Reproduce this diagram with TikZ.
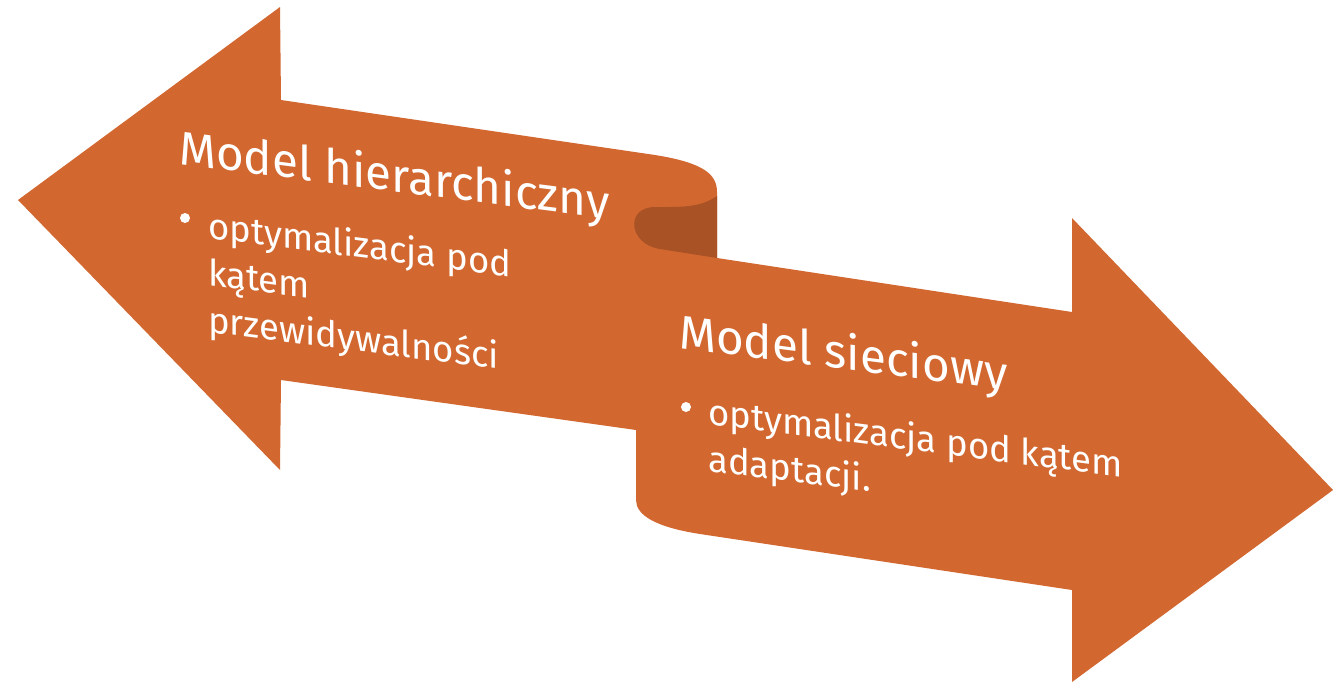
\documentclass[tikz,border=0pt]{standalone}
\usepackage{fontspec}
\setmainfont{Fira Sans}
\usetikzlibrary{positioning}
\definecolor{ribbon}{HTML}{D2672F}
\definecolor{ribbonfold}{HTML}{A85226}
\newcommand{\lines}[1]{\begin{tabular}[t]{@{}l@{}}#1\end{tabular}}
\begin{document}
\begin{tikzpicture}[x=1pt,y=-1pt]
    \tikzstyle{every node}+=[inner sep=0pt, text=white]
    \tikzstyle{title}=[font=\fontsize{47.5}{54}\selectfont, anchor=base west, yslant=-0.128]
    \tikzstyle{item}=[font=\fontsize{36.5}{47}\selectfont, anchor=base west, yslant=-0.128]
    \tikzstyle{dot}=[circle, fill=white, minimum size=10pt]
    \useasboundingbox (0,0) rectangle (1337,683);
    % ribbon body, both heads
    \fill [ribbon] (18,200) -- (280,7) -- (281,100) -- (655,155)
        .. controls (705,163) and (717,175) .. (717,192) -- (717,258)
        -- (1072,312) -- (1072,218) -- (1333,490) -- (1072,682) -- (1072,590)
        -- (700,534) .. controls (655,527) and (636,515) .. (636,500)
        -- (636,430) -- (281,380) -- (280,470) -- cycle;
    % inside of the fold
    \fill [ribbonfold] (717,196) .. controls (700,208) and (680,207) .. (655,207)
        .. controls (625,207) and (628,244) .. (660,249) -- (717,258) -- cycle;
    % left arrow text
    \node [title] (hier) at (179,164) {Model hierarchiczny};
    \node [dot] (hierdot) at (185,218) {};
    \node [item] (hieritem) at (208,238) {\lines{optymalizacja pod\\kątem\\przewidywalności}};
    % right arrow text
    \node [title] (siec) at (679,348) {Model sieciowy};
    \node [dot] (siecdot) at (686,407) {};
    \node [item] (siecitem) at (708,424) {\lines{optymalizacja pod kątem\\adaptacji.}};
\end{tikzpicture}
\end{document}
